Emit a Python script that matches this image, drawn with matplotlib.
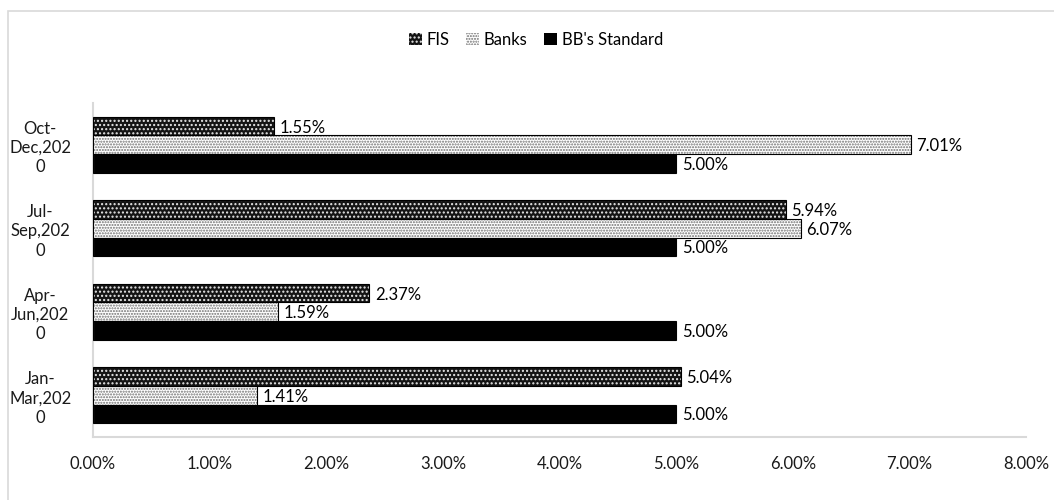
import matplotlib
matplotlib.use("Agg")
import matplotlib.pyplot as plt
from matplotlib.patches import Patch, Rectangle
import numpy as np

categories = ["Jan-\nMar,202\n0", "Apr-\nJun,202\n0", "Jul-\nSep,202\n0", "Oct-\nDec,202\n0"]
fis = [5.04, 2.37, 5.94, 1.55]
banks = [1.41, 1.59, 6.07, 7.01]
bb_standard = [5.00, 5.00, 5.00, 5.00]
series_names = ["FIS", "Banks", "BB's Standard"]
xticks = [0, 1, 2, 3, 4, 5, 6, 7, 8]

plt.rcParams['font.family'] = ['Lato', 'DejaVu Sans']
plt.rcParams['hatch.linewidth'] = 1.0

FS = 12

fig = plt.figure(figsize=(10.54, 5.0), dpi=100)
ax = fig.add_axes([93/1054, 1-437/500, (1026-93)/1054, (437-103)/500])

y = np.arange(len(categories))
h = 0.222
styles = [
    dict(face="#141414", hatch="....", hcol="#e8e8e8"),
    dict(face="#ffffff", hatch="......", hcol="#707070"),
    dict(face="#000000", hatch=None, hcol="#000000"),
]
offsets = [h, 0, -h]
handles = []
for vals, st, off, name in zip([fis, banks, bb_standard], styles, offsets, series_names):
    ax.barh(y + off, vals, height=h, color=st["face"], edgecolor=st["hcol"],
            hatch=st["hatch"], linewidth=0, zorder=2)
    ax.barh(y + off, vals, height=h, fill=False, edgecolor="#000000", linewidth=0.8, zorder=5)
    for yi, v in zip(y + off, vals):
        ax.annotate(f"{v:.2f}%", xy=(v, yi), xytext=(4, -1), textcoords="offset points",
                    ha="left", va="center", fontsize=FS, color="#000000",
                    bbox=dict(boxstyle="square,pad=0.0", fc="white", ec="none"), zorder=4)
    handles.append(Patch(facecolor=st["face"], edgecolor=st["hcol"], hatch=st["hatch"],
                         linewidth=0, label=name))

ax.set_xlim(0, 8)
ax.set_ylim(-0.5, 3.5)
ax.set_xticks(xticks)
ax.set_xticklabels([f"{t:.2f}%" for t in xticks], fontsize=FS, color="#1a1a1a")
ax.set_yticks(y)
ax.set_yticklabels(categories, fontsize=FS, color="#1a1a1a", ha="center", linespacing=1.25)
ax.tick_params(axis="y", length=0, pad=38)
ax.tick_params(axis="x", length=0, pad=14)
for s in ["top", "right"]:
    ax.spines[s].set_visible(False)
for s in ["left", "bottom"]:
    ax.spines[s].set_color("#d9d9d9")
    ax.spines[s].set_linewidth(1.5)

leg = fig.legend(handles=handles, loc="center", bbox_to_anchor=(536/1054, 1-40/500), ncol=3,
                 frameon=False, fontsize=FS, handlelength=0.75, handleheight=0.75,
                 handletextpad=0.3, columnspacing=1.0)

# chart area border
fig.add_artist(Rectangle((8/1054, -0.1), 1.2, 1 - 11/500 + 0.1, transform=fig.transFigure,
                         fill=False, edgecolor="#d9d9d9", linewidth=1.2))

fig.savefig("out.png", dpi=100)
